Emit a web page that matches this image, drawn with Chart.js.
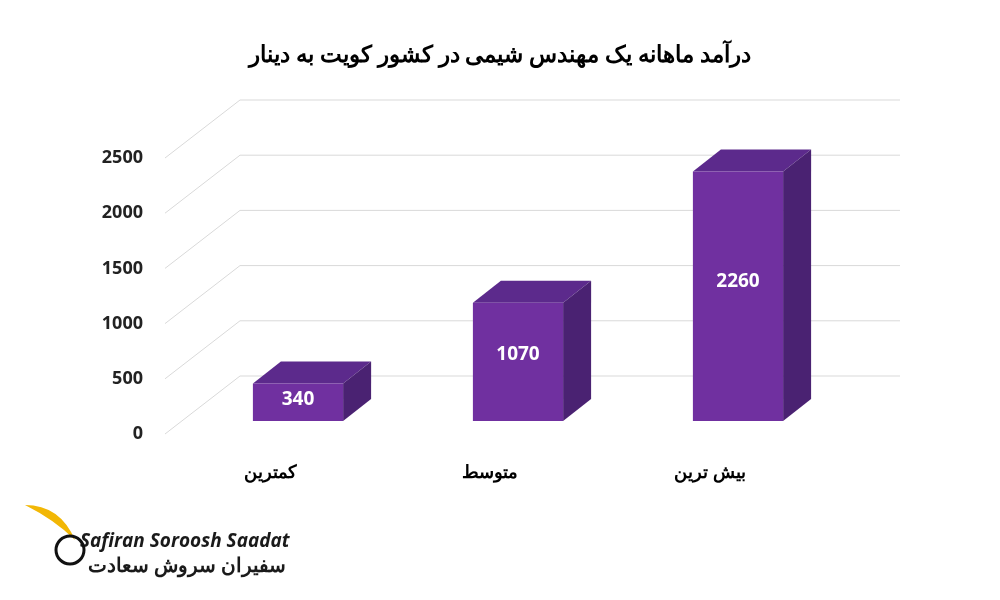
<!DOCTYPE html>
<html><head><meta charset="utf-8">
<script src="https://cdn.jsdelivr.net/npm/chart.js@4"></script>
<style>body{margin:0;background:#fff}#w{width:1000px;height:600px}</style>
</head><body><div id="w"><canvas id="c"></canvas></div>
<script>
const categories=["کمترین","متوسط","بیش ترین"];
const values=[340,1070,2260];
const yTicks=[0,500,1000,1500,2000,2500];
const title="درآمد ماهانه یک مهندس شیمی در کشور کویت به دینار";
const DX=28,DY=-22,BASE=-13;
const deco={id:'deco',
beforeDatasetsDraw(ch){const c=ch.ctx,y=ch.scales.y;
 c.save();c.strokeStyle='#d9d9d9';c.lineWidth=1;
 yTicks.forEach(t=>{const p=y.getPixelForValue(t);c.beginPath();c.moveTo(165,p);c.lineTo(240,p-58);c.lineTo(900,p-58);c.stroke();});
 c.fillStyle='#222';c.font='bold 18px "Open Sans",sans-serif';c.textAlign='right';c.textBaseline='middle';
 yTicks.forEach(t=>c.fillText(String(t),143,y.getPixelForValue(t)));
 c.fillStyle='#000';c.font='bold 23px "Noto Sans",sans-serif';c.textAlign='center';c.fillText(title,500,55);
 c.font='bold 18px "Noto Sans",sans-serif';
 ch.getDatasetMeta(0).data.forEach((b,i)=>c.fillText(categories[i],b.x-28,473));
 c.restore();
 c.save();c.translate(0,BASE);
 ch.getDatasetMeta(0).data.forEach(b=>{const l=b.x-b.width/2,r=b.x+b.width/2,t=b.y,bt=b.base;
  c.fillStyle='#5C2A8C';c.beginPath();c.moveTo(l,t);c.lineTo(l+DX,t+DY);c.lineTo(r+DX,t+DY);c.lineTo(r,t);c.closePath();c.fill();
  c.fillStyle='#4A2272';c.beginPath();c.moveTo(r,t);c.lineTo(r+DX,t+DY);c.lineTo(r+DX,bt+DY);c.lineTo(r,bt);c.closePath();c.fill();});
},
afterDatasetsDraw(ch){const c=ch.ctx;c.restore();c.save();
 c.fillStyle='#fff';c.font='bold 19px "Open Sans",sans-serif';c.textAlign='center';c.textBaseline='middle';
 ch.getDatasetMeta(0).data.forEach((b,i)=>c.fillText(String(values[i]),b.x,b.y+(b.base-b.y)*0.44+BASE));
 c.fillStyle='#1a1a1a';c.font='italic bold 19px "Open Sans",sans-serif';c.textAlign='left';c.fillText('Safiran Soroosh Saadat',80,542);
 c.font='bold 20px "Noto Sans",sans-serif';c.textAlign='left';c.fillText('سفیران سروش سعادت',88,566);
 c.fillStyle='#F2B705';c.beginPath();c.moveTo(25,505);c.quadraticCurveTo(60,505,75,540);c.quadraticCurveTo(55,520,25,505);c.fill();
 c.strokeStyle='#111';c.lineWidth=3;c.beginPath();c.arc(70,550,14,0,Math.PI*2);c.stroke();
 c.restore();}};
new Chart(document.getElementById('c'),{type:'bar',
data:{labels:categories,datasets:[{data:values,backgroundColor:'#7030A0',barPercentage:0.41,categoryPercentage:1}]},
options:{responsive:true,maintainAspectRatio:false,animation:false,
layout:{padding:{left:188,right:152,top:158,bottom:166}},
plugins:{legend:{display:false},tooltip:{enabled:false}},
scales:{x:{display:false},y:{display:false,min:0,max:2500}}},
plugins:[deco]});
</script></body></html>
